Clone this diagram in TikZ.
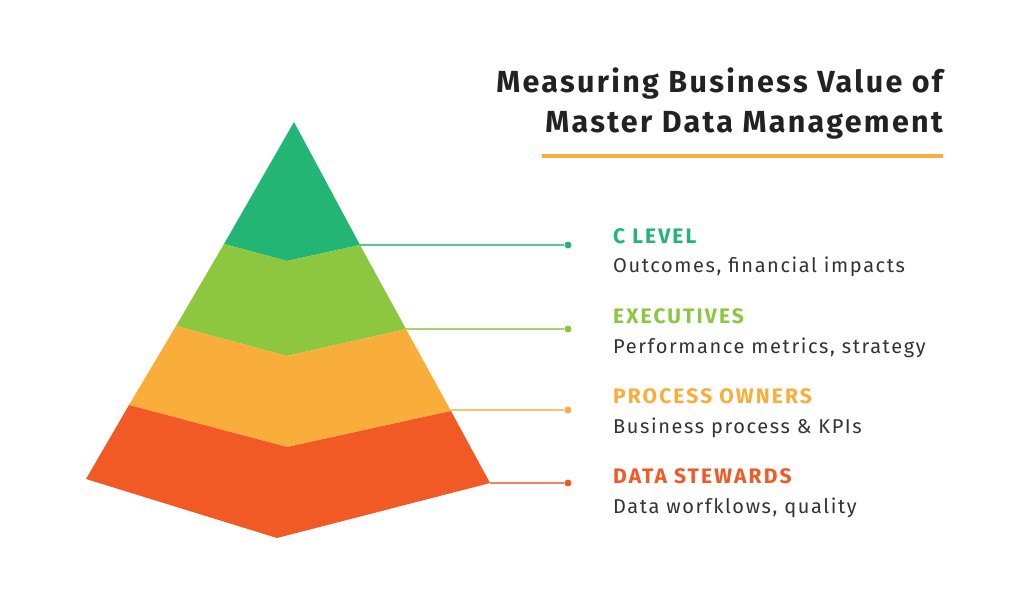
\documentclass[tikz,border=0pt]{standalone}
\usepackage{fontspec}
\setmainfont{Fira Sans}
\newfontfamily\titlefont[LetterSpace=7.5]{Fira Sans}
\newfontfamily\tierfont[LetterSpace=10]{Fira Sans}
\newfontfamily\notefont[LetterSpace=8]{Fira Sans}
\usepackage{tikz}
\definecolor{topgreen}{HTML}{23B574}
\definecolor{midgreen}{HTML}{8DC63F}
\definecolor{midorange}{HTML}{F9AE3B}
\definecolor{baseorange}{HTML}{F15A24}
\definecolor{inkgray}{HTML}{222222}
\definecolor{bodygray}{HTML}{333333}
\tikzset{
  dot/.style={circle,fill=#1,inner sep=0pt,minimum size=7pt},
  leader/.style={draw=#1!75!white,line width=1.5pt},
  tier/.style={anchor=base west,inner sep=0pt,font=\tierfont\fontsize{21}{21}\selectfont\bfseries,text=#1},
  tiertext/.style={anchor=base west,inner sep=0pt,font=\notefont\fontsize{20}{20}\selectfont,text=bodygray},
  headline/.style={anchor=base east,inner sep=0pt,font=\titlefont\fontsize{30.5}{30.5}\selectfont\bfseries,text=inkgray}
}
\begin{document}
\begin{tikzpicture}[x=1pt,y=-1pt]
\useasboundingbox (0,0) rectangle (1024,597);
\fill[white] (0,0) rectangle (1024,597);
% pyramid corners
\coordinate (apex) at (294,122);
\coordinate (L1) at (224,244); \coordinate (M1) at (287,261); \coordinate (R1) at (360,245);
\coordinate (L2) at (176,326); \coordinate (M2) at (287,356); \coordinate (R2) at (406,329);
\coordinate (L3) at (129,405); \coordinate (M3) at (287,447); \coordinate (R3) at (451,411);
\coordinate (L4) at (86,479);  \coordinate (M4) at (277,538); \coordinate (R4) at (490,483);
\fill[topgreen] (apex) -- (R1) -- (M1) -- (L1) -- cycle;
\fill[midgreen] (L1) -- (M1) -- (R1) -- (R2) -- (M2) -- (L2) -- cycle;
\fill[midorange] (L2) -- (M2) -- (R2) -- (R3) -- (M3) -- (L3) -- cycle;
\fill[baseorange] (L3) -- (M3) -- (R3) -- (R4) -- (M4) -- (L4) -- cycle;
% title
\node[headline] (title1) at (943,92) {Measuring Business Value of};
\node[headline] (title2) at (943,132) {Master Data Management};
\coordinate (ruleA) at (542,156);
\coordinate (ruleB) at (943,156);
\draw[midorange,line width=4pt] (ruleA) -- (ruleB);
% leaders
\node[dot=topgreen] (d1) at (568,245) {};
\node[dot=midgreen] (d2) at (568,329) {};
\node[dot=midorange] (d3) at (568,410) {};
\node[dot=baseorange] (d4) at (568,483) {};
\draw[leader=topgreen] (R1) -- (d1);
\draw[leader=midgreen] (R2) -- (d2);
\draw[leader=midorange] (R3) ++(0,-1) -- (d3);
\draw[leader=baseorange] (R4) -- (d4);
% labels
\node[tier=topgreen] (t1) at (613,243) {C LEVEL};
\node[tiertext] (s1) at (613,272) {Outcomes, financial impacts};
\node[tier=midgreen] (t2) at (613,323) {EXECUTIVES};
\node[tiertext] (s2) at (613,353) {Performance metrics, strategy};
\node[tier=midorange] (t3) at (613,403) {PROCESS OWNERS};
\node[tiertext] (s3) at (613,433) {Business process \& KPIs};
\node[tier=baseorange] (t4) at (613,483) {DATA STEWARDS};
\node[tiertext] (s4) at (613,513) {Data worfklows, quality};
\end{tikzpicture}
\end{document}
